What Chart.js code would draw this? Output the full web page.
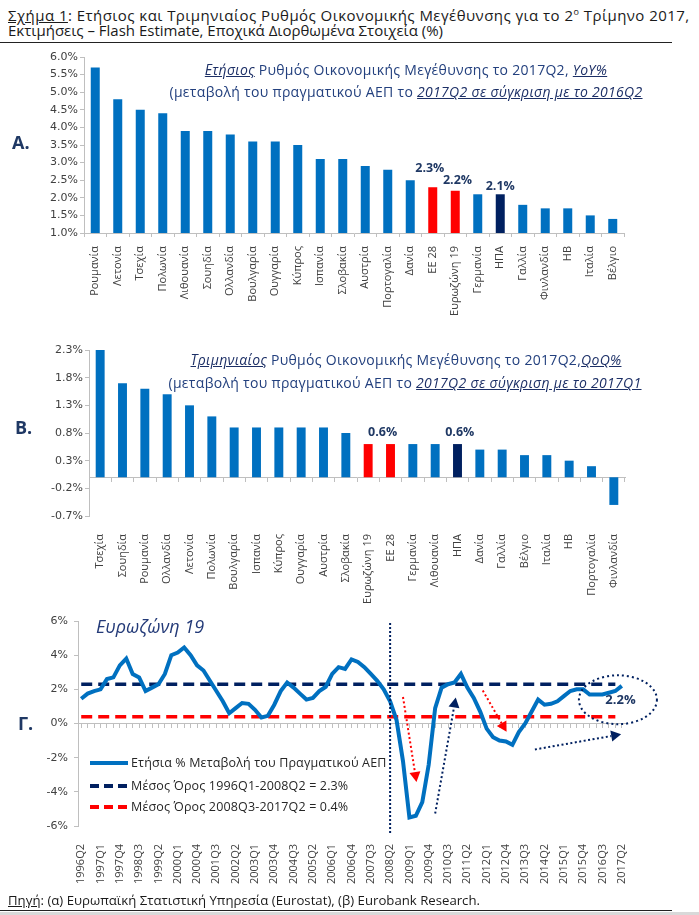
<!DOCTYPE html>
<html>
<head>
<meta charset="utf-8">
<script src="https://cdn.jsdelivr.net/npm/chart.js@4.4.0/dist/chart.umd.min.js"></script>
<style>
body { margin: 0; background: #fff; width: 699px; height: 915px; position: relative; overflow: hidden; font-family: 'Open Sans', sans-serif; }
.abs { position: absolute; white-space: nowrap; }
canvas { position: absolute; left: 0; }
.hdr { font-size: 15px; color: #1a1a1a; line-height: 19px; }
.gramma { font-size: 18px; font-weight: bold; color: #1f3864; line-height: 20px; }
.titlos { font-size: 14px; letter-spacing: 0.3px; color: #23407e; line-height: 18px; transform: translateX(-50%); }
.titlos i { color: #1c2f66; }
.leg { font-size: 12.5px; letter-spacing: 0.15px; color: #262626; line-height: 16px; }
</style>
</head>
<body>

<div class="abs hdr" style="left:8px;top:2px;letter-spacing:0.45px"><u>Σχήμα 1</u>: Ετήσιος και Τριμηνιαίος Ρυθμός Οικονομικής Μεγέθυνσης για το 2<sup style="font-size:9px">ο</sup> Τρίμηνο 2017,</div>
<div class="abs hdr" style="left:8px;top:21px">Εκτιμήσεις – Flash Estimate, Εποχικά Διορθωμένα Στοιχεία (%)</div>
<div class="abs" style="left:0;top:42px;width:672px;height:1px;background:#222"></div>

<canvas id="grafikA" width="699" height="271" style="top:47px"></canvas>
<canvas id="grafikB" width="699" height="272" style="top:335px"></canvas>
<canvas id="grafikG" width="699" height="280" style="top:605px"></canvas>

<div class="abs gramma" style="left:12px;top:132px">Α.</div>
<div class="abs gramma" style="left:15px;top:417px">Β.</div>
<div class="abs gramma" style="left:18px;top:713px">Γ.</div>

<div class="abs titlos" style="left:406px;top:61px"><i><u>Ετήσιος</u></i> Ρυθμός Οικονομικής Μεγέθυνσης το 2017Q2, <i><u>YoY%</u></i></div>
<div class="abs titlos" style="left:406px;top:83px">(μεταβολή του πραγματικού ΑΕΠ το <i><u>2017Q2 σε σύγκριση με το 2016Q2</u></i></div>
<div class="abs titlos" style="left:406px;top:351px"><i><u>Τριμηνιαίος</u></i> Ρυθμός Οικονομικής Μεγέθυνσης το 2017Q2,<i><u>QoQ%</u></i></div>
<div class="abs titlos" style="left:405px;top:374px">(μεταβολή του πραγματικού ΑΕΠ το <i><u>2017Q2 σε σύγκριση με το 2017Q1</u></i></div>

<div class="abs" style="left:96px;top:614px;font-size:18px;font-style:italic;color:#233a78">Ευρωζώνη 19</div>

<svg class="abs" style="left:88px;top:752px" width="44" height="64">
  <line x1="2" y1="11" x2="40" y2="11" stroke="#0070c0" stroke-width="4"/>
  <line x1="2" y1="34" x2="40" y2="34" stroke="#002060" stroke-width="4" stroke-dasharray="9,5"/>
  <line x1="2" y1="55" x2="40" y2="55" stroke="#ff0000" stroke-width="4" stroke-dasharray="9,5"/>
</svg>
<div class="abs leg" style="left:131px;top:755px">Ετήσια % Μεταβολή του Πραγματικού ΑΕΠ</div>
<div class="abs leg" style="left:131px;top:778px">Μέσος Όρος 1996Q1-2008Q2 = 2.3%</div>
<div class="abs leg" style="left:131px;top:799px">Μέσος Όρος 2008Q3-2017Q2 = 0.4%</div>

<div class="abs hdr" style="left:8px;top:891px;font-size:13.2px"><u>Πηγή</u>: (α) Ευρωπαϊκή Στατιστική Υπηρεσία (Eurostat), (β) Eurobank Research.</div>
<div class="abs" style="left:0;top:910px;width:672px;height:1px;background:#222"></div>
<div class="abs" style="left:0;top:912px;width:699px;height:3px;background:#d9d9d9"></div>

<script>
// Α. ετήσιος ρυθμός 2017Q2 (YoY %)
var katA = ['Ρουμανία', 'Λετονία', 'Τσεχία', 'Πολωνία', 'Λιθουανία', 'Σουηδία', 'Ολλανδία', 'Βουλγαρία',
    'Ουγγαρία', 'Κύπρος', 'Ισπανία', 'Σλοβακία', 'Αυστρία', 'Πορτογαλία', 'Δανία', 'ΕΕ 28',
    'Ευρωζώνη 19', 'Γερμανία', 'ΗΠΑ', 'Γαλλία', 'Φινλανδία', 'ΗΒ', 'Ιταλία', 'Βέλγιο'];
var etisioA = [5.7, 4.8, 4.5, 4.4, 3.9, 3.9, 3.8, 3.6, 3.6, 3.5, 3.1, 3.1, 2.9, 2.8, 2.5, 2.3,
    2.2, 2.1, 2.1, 1.8, 1.7, 1.7, 1.5, 1.4];

// Β. τριμηνιαίος ρυθμός 2017Q2 (QoQ %)
var katB = ['Τσεχία', 'Σουηδία', 'Ρουμανία', 'Ολλανδία', 'Λετονία', 'Πολωνία', 'Βουλγαρία', 'Ισπανία',
    'Κύπρος', 'Ουγγαρία', 'Αυστρία', 'Σλοβακία', 'Ευρωζώνη 19', 'ΕΕ 28', 'Γερμανία', 'Λιθουανία',
    'ΗΠΑ', 'Δανία', 'Γαλλία', 'Βέλγιο', 'Ιταλία', 'ΗΒ', 'Πορτογαλία', 'Φινλανδία'];
var trimB = [2.3, 1.7, 1.6, 1.5, 1.3, 1.1, 0.9, 0.9, 0.9, 0.9, 0.9, 0.8, 0.6, 0.6, 0.6, 0.6,
    0.6, 0.5, 0.5, 0.4, 0.4, 0.3, 0.2, -0.5];

// Γ. ευρωζώνη, ετήσια % μεταβολή ΑΕΠ 1996Q2 - 2017Q2
var tetramina = [];
for (var et = 1996, tr = 2; et < 2017 || (et === 2017 && tr <= 2);) {
    tetramina.push(et + 'Q' + tr);
    tr++;
    if (tr > 4) { tr = 1; et++; }
}
var aepEtisio = [1.45, 1.75, 1.9, 2.0, 2.6, 2.7, 3.4, 3.8, 2.9, 2.7, 1.9, 2.1, 2.3, 2.9, 4.0, 4.15,
    4.45, 4.0, 3.4, 3.1, 2.5, 1.9, 1.3, 0.6, 0.9, 1.2, 1.15, 0.8, 0.35, 0.45, 1.1, 1.9,
    2.4, 2.1, 1.75, 1.4, 1.5, 1.9, 2.15, 2.9, 3.3, 3.2, 3.75, 3.6, 3.3, 2.9, 2.5, 2.0,
    1.3, 0.2, -2.2, -5.5, -5.4, -4.6, -2.4, 0.9, 2.1, 2.3, 2.4, 2.9, 2.1, 1.5, 0.7, -0.3,
    -0.8, -1.0, -1.05, -1.25, -0.5, 0.0, 0.7, 1.4, 1.1, 1.15, 1.3, 1.6, 1.9, 2.0, 2.0, 1.7,
    1.7, 1.7, 1.8, 1.9, 2.2];
var mesosOros1 = 2.3;   // 1996Q1-2008Q2
var mesosOros2 = 0.4;   // 2008Q3-2017Q2

Chart.defaults.font.family = "'Open Sans', sans-serif";
Chart.defaults.color = '#404040';
Chart.defaults.animation = false;

var MPLE = '#0070c0', KOKKINO = '#ff0000', NAVY = '#002060', GKRI = '#bfbfbf';
var yFont = { family: "'DejaVu Sans', sans-serif", size: 11 };

function xromata(kat) {
    return kat.map(function (k) {
        if (k === 'ΕΕ 28' || k === 'Ευρωζώνη 19') return KOKKINO;
        if (k === 'ΗΠΑ') return NAVY;
        return MPLE;
    });
}

// ετικέτες τιμών πάνω από επιλεγμένες μπάρες
var etiketesPlugin = {
    id: 'etiketes',
    afterDatasetsDraw: function (chart, args, opts) {
        if (!opts.items) return;
        var ctx = chart.ctx, xs = chart.scales.x, ys = chart.scales.y;
        var data = chart.data.datasets[0].data;
        ctx.save();
        ctx.font = "bold 12.5px 'Open Sans', sans-serif";
        ctx.fillStyle = '#1f3864';
        ctx.textAlign = 'center';
        ctx.textBaseline = 'middle';
        opts.items.forEach(function (it) {
            var v = data[it.index];
            ctx.fillText(v.toFixed(1) + '%', xs.getPixelForValue(it.index + it.shift), ys.getPixelForValue(v) - it.lift);
        });
        ctx.restore();
    }
};

function bar(id, kat, vals, ymin, ymax, pad, yWidth, xHeight, mideniko, items) {
    var scales = {
        x: {
            grid: mideniko ? { display: false } : { drawOnChartArea: false, offset: true, tickLength: 4, color: GKRI },
            border: { display: !mideniko, color: GKRI },
            ticks: { autoSkip: false, minRotation: 90, maxRotation: 90, padding: mideniko ? 10 : 9, font: { size: 11 } },
            afterFit: function (s) { s.height = xHeight; }
        },
        y: {
            min: ymin, max: ymax,
            grid: { drawOnChartArea: false, tickLength: 4, color: GKRI },
            border: { color: GKRI },
            ticks: { stepSize: 0.5, padding: 2, font: yFont, callback: function (v) { return v.toFixed(1) + '%'; } },
            afterFit: function (s) { s.width = yWidth; }
        }
    };
    if (mideniko) {
        scales.x0 = {
            axis: 'x', type: 'category', position: { y: 0 }, offset: true,
            grid: { drawOnChartArea: false, offset: true, tickLength: 4, color: GKRI },
            border: { color: GKRI },
            ticks: { display: false }
        };
    }
    return new Chart(document.getElementById(id).getContext('2d'), {
        type: 'bar',
        data: {
            labels: kat,
            datasets: [{ data: vals, backgroundColor: xromata(kat), categoryPercentage: 1, barPercentage: 0.4 }]
        },
        options: {
            responsive: false,
            layout: { padding: pad },
            plugins: { legend: { display: false }, tooltip: { enabled: false }, etiketes: { items: items } },
            scales: scales
        },
        plugins: [etiketesPlugin]
    });
}

bar('grafikA', katA, etisioA, 1, 6, { top: 10, right: 75, left: 0, bottom: 0 }, 84, 85, false, [
    { index: 15, shift: -0.13, lift: 19 },
    { index: 16, shift: 0.1, lift: 10 },
    { index: 18, shift: 0, lift: 8 }
]);

bar('grafikB', katB, trimB, -0.7, 2.3, { top: 15, right: 74, left: 0, bottom: 0 }, 89, 91, true, [
    { index: 12, shift: 0.65, lift: 12 },
    { index: 16, shift: 0.1, lift: 12 }
]);

// σχόλια στο γράφημα Γ (συντεταγμένες σε τρίμηνο / %)
var sxoliaPlugin = {
    id: 'sxolia',
    afterDatasetsDraw: function (chart, args, o) {
        var ctx = chart.ctx, xs = chart.scales.x, ys = chart.scales.y, a = chart.chartArea;
        function px(p) { return [xs.getPixelForValue(p[0]), ys.getPixelForValue(p[1])]; }
        ctx.save();
        ctx.lineWidth = 2;
        ctx.setLineDash([2, 2]);
        ctx.strokeStyle = NAVY;
        var vx = xs.getPixelForValue(o.katheti);
        ctx.beginPath(); ctx.moveTo(vx, a.top + 2); ctx.lineTo(vx, a.bottom + 7); ctx.stroke();

        o.veli.forEach(function (b) {
            var p1 = px(b.apo), p2 = px(b.pros);
            var ang = Math.atan2(p2[1] - p1[1], p2[0] - p1[0]);
            var bx = p2[0] - 10 * Math.cos(ang), by = p2[1] - 10 * Math.sin(ang);
            ctx.setLineDash([2, 2.5]);
            ctx.strokeStyle = b.xroma;
            ctx.beginPath(); ctx.moveTo(p1[0], p1[1]); ctx.lineTo(bx, by); ctx.stroke();
            ctx.setLineDash([]);
            ctx.fillStyle = b.xroma;
            ctx.beginPath();
            ctx.moveTo(p2[0], p2[1]);
            ctx.lineTo(bx + 5.5 * Math.sin(ang), by - 5.5 * Math.cos(ang));
            ctx.lineTo(bx - 5.5 * Math.sin(ang), by + 5.5 * Math.cos(ang));
            ctx.closePath(); ctx.fill();
        });

        var c = px(o.elleipsi.kentro);
        var rx = Math.abs(xs.getPixelForValue(o.elleipsi.kentro[0] + o.elleipsi.rx) - c[0]);
        var ry = Math.abs(ys.getPixelForValue(o.elleipsi.kentro[1] + o.elleipsi.ry) - c[1]);
        ctx.setLineDash([2, 3]);
        ctx.strokeStyle = NAVY;
        ctx.beginPath(); ctx.ellipse(c[0], c[1], rx, ry, 0, 0, Math.PI * 2); ctx.stroke();

        var t = px(o.keimeno.thesi);
        ctx.fillStyle = '#1f3864';
        ctx.font = "bold 13px 'Open Sans', sans-serif";
        ctx.textAlign = 'center';
        ctx.textBaseline = 'middle';
        ctx.fillText(o.keimeno.text, t[0], t[1]);
        ctx.restore();
    }
};

new Chart(document.getElementById('grafikG').getContext('2d'), {
    type: 'line',
    data: {
        labels: tetramina,
        datasets: [
            { data: aepEtisio, borderColor: MPLE, borderWidth: 4, pointRadius: 0, tension: 0, order: 0 },
            { data: tetramina.map(function (t, i) { return i < 84 ? mesosOros1 : null; }), borderColor: NAVY, borderWidth: 3.5, borderDash: [11, 6], pointRadius: 0, order: 1 },
            { data: tetramina.map(function (t, i) { return i < 84 ? mesosOros2 : null; }), borderColor: KOKKINO, borderWidth: 3.5, borderDash: [11, 6], pointRadius: 0, order: 2 }
        ]
    },
    options: {
        responsive: false,
        layout: { padding: { top: 16, right: 74, left: 0, bottom: 0 } },
        plugins: {
            legend: { display: false }, tooltip: { enabled: false },
            sxolia: {
                katheti: 48,
                veli: [
                    { apo: [50.0, 1.55], pros: [52.1, -3.43], xroma: KOKKINO },
                    { apo: [55.0, -5.27], pros: [58.2, 1.52], xroma: NAVY },
                    { apo: [62.4, 1.93], pros: [66.1, -0.49], xroma: KOKKINO },
                    { apo: [70.5, -1.52], pros: [83.9, -0.63], xroma: NAVY }
                ],
                elleipsi: { kentro: [83.4, 1.39], rx: 6.06, ry: 1.43 },
                keimeno: { thesi: [83.8, 1.33], text: '2.2%' }
            }
        },
        scales: {
            x: {
                offset: true,
                grid: { display: false },
                border: { display: false },
                ticks: {
                    autoSkip: false, minRotation: 90, maxRotation: 90, padding: 10, font: { size: 11 },
                    callback: function (v, i) { return i % 3 === 0 ? tetramina[i] : ''; }
                },
                afterFit: function (s) { s.height = 59; }
            },
            x0: {
                axis: 'x', type: 'category', position: { y: 0 }, offset: true,
                grid: { drawOnChartArea: false, tickLength: 4, color: GKRI },
                border: { color: GKRI },
                ticks: { display: false }
            },
            y: {
                min: -6, max: 6,
                grid: { drawOnChartArea: false, tickLength: 4, color: GKRI },
                border: { color: GKRI },
                ticks: { stepSize: 2, padding: 6, font: yFont, callback: function (v) { return v + '%'; } },
                afterFit: function (s) { s.width = 78; }
            }
        }
    },
    plugins: [sxoliaPlugin]
});
</script>
</body>
</html>
